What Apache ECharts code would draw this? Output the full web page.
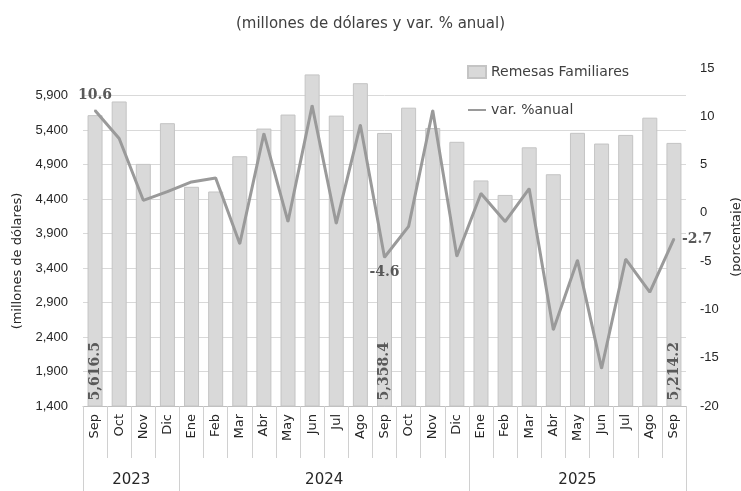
<!DOCTYPE html>
<html>
<head>
<meta charset="utf-8">
<script src="https://cdn.jsdelivr.net/npm/echarts@6/dist/echarts.min.js"></script>
<style>
	html, body { margin: 0; padding: 0; background: #fff; }
	#chart { width: 741px; height: 491px; }
</style>
</head>
<body>
<div id="chart"></div>
<script>
// meses (sep 2023 - sep 2025)
const months = ['Sep', 'Oct', 'Nov', 'Dic', 'Ene', 'Feb', 'Mar', 'Abr', 'May', 'Jun', 'Jul', 'Ago', 'Sep',
	'Oct', 'Nov', 'Dic', 'Ene', 'Feb', 'Mar', 'Abr', 'May', 'Jun', 'Jul', 'Ago', 'Sep'];
const years = ['2023', '2024', '2025'];
const monthsPerYear = [4, 12, 9];
// remesas familiares, millones de dólares
const remesas = [5616.5, 5815, 4910, 5500, 4578, 4510, 5021, 5422, 5625, 6207, 5610, 6080, 5358.4,
	5725, 5430, 5230, 4670, 4460, 5150, 4760, 5360, 5205, 5330, 5580, 5214.2];
// var. % anual
const variacion = [10.6, 7.7, 1.3, 2.2, 3.2, 3.6, -3.2, 8.2, -0.9, 11.1, -1.1, 9.1, -4.6,
	-1.4, 10.6, -4.5, 2.0, -0.9, 2.5, -12.1, -4.9, -16.1, -4.8, -8.2, -2.7];
const labeledIdx = [0, 12, 24];

const leftTicks = { min: 1400, max: 6300, interval: 500 };
const rightTicks = { min: -20, max: 15, interval: 5 };

// límites y centros de cada año sobre el eje de categorías
const yearBounds = [0];
monthsPerYear.forEach(n => yearBounds.push(yearBounds[yearBounds.length - 1] + n));
const yearCenters = years.map((y, i) => (yearBounds[i] + yearBounds[i + 1]) / 2);

const numFont = 'Liberation Sans';
const textFont = 'DejaVu Sans';
const lblFont = 'DejaVu Serif';
const lineColor = '#9a9a9a';

const linePos = ['top', 'bottom', 'right'];

const option = {
	animation: false,
	title: {
		text: '(millones de dólares y var. % anual)',
		left: 'center',
		top: 12,
		textStyle: { fontFamily: textFont, fontSize: 15, fontWeight: 'normal', color: '#404040' },
	},
	legend: {
		orient: 'vertical',
		left: 462,
		top: 60,
		itemGap: 24,
		itemWidth: 18,
		itemHeight: 12,
		textStyle: { fontFamily: textFont, fontSize: 14, color: '#404040' },
		data: [
			{ name: 'Remesas Familiares', icon: 'rect' },
			{ name: 'var. %anual', itemStyle: { opacity: 0 } },
		],
	},
	grid: { left: 83, right: 55, top: 68, bottom: 85, outerBoundsMode: 'none', containLabel: false },
	xAxis: [
		{
			type: 'category',
			data: months,
			axisLine: { onZero: false, lineStyle: { color: '#bfbfbf' } },
			axisTick: { show: true, length: 52, lineStyle: { color: '#d0d0d0' } },
			axisLabel: {
				rotate: 90,
				margin: 8,
				interval: 0,
				fontFamily: textFont,
				fontSize: 13,
				color: '#262626',
			},
		},
		{
			type: 'value',
			min: 0,
			max: months.length,
			position: 'bottom',
			axisLine: { show: false, onZero: false },
			splitLine: { show: false },
			axisTick: { show: true, length: 85, customValues: yearBounds, lineStyle: { color: '#d0d0d0' } },
			axisLabel: {
				customValues: yearCenters,
				margin: 67,
				fontFamily: textFont,
				fontSize: 15,
				color: '#262626',
				formatter: v => years[yearCenters.indexOf(v)] || '',
			},
		},
	],
	yAxis: [
		{
			type: 'value',
			min: leftTicks.min,
			max: leftTicks.max,
			interval: leftTicks.interval,
			name: '(millones de dólares)',
			nameLocation: 'middle',
			nameRotate: 90,
			nameGap: 58,
			nameTextStyle: { fontFamily: textFont, fontSize: 13, color: '#262626', padding: [0, 48, 0, 0] },
			axisLine: { show: false },
			axisTick: { show: false },
			axisLabel: {
				margin: 15,
				fontFamily: numFont,
				fontSize: 13,
				color: '#262626',
				formatter: v => (v === leftTicks.max ? '' : v.toLocaleString('en-US')),
			},
			splitLine: { show: true, showMaxLine: false, lineStyle: { color: '#d9d9d9' } },
		},
		{
			type: 'value',
			min: rightTicks.min,
			max: rightTicks.max,
			interval: rightTicks.interval,
			name: '(porcentaje)',
			nameLocation: 'middle',
			nameRotate: 90,
			nameGap: 42,
			nameTextStyle: { fontFamily: textFont, fontSize: 13, color: '#262626' },
			axisLine: { show: false },
			axisTick: { show: false },
			axisLabel: { margin: 14, fontFamily: numFont, fontSize: 13, color: '#262626' },
			splitLine: { show: false },
		},
	],
	series: [
		{
			name: 'Remesas Familiares',
			type: 'bar',
			xAxisIndex: 0,
			yAxisIndex: 0,
			barWidth: 15,
			itemStyle: { color: '#d9d9d9', borderColor: '#c4c4c4', borderWidth: 1 },
			data: remesas.map((v, i) =>
				labeledIdx.includes(i)
					? {
							value: v,
							label: {
								show: true,
								position: 'insideBottom',
								rotate: 90,
								align: 'left',
								verticalAlign: 'middle',
								distance: 6,
								fontFamily: lblFont,
								fontWeight: 'bold',
								fontSize: 14,
								color: '#595959',
								formatter: p => p.value.toLocaleString('en-US', { minimumFractionDigits: 1 }),
							},
					  }
					: v
			),
		},
		{
			name: 'var. %anual',
			type: 'line',
			xAxisIndex: 0,
			yAxisIndex: 1,
			symbol: 'circle',
			symbolSize: 2,
			showSymbol: true,
			lineStyle: { color: lineColor, width: 3 },
			itemStyle: { color: lineColor },
			data: variacion.map((v, i) => {
				const k = labeledIdx.indexOf(i);
				if (k < 0) return v;
				return {
					value: v,
					label: {
						show: true,
						position: linePos[k],
						distance: 7,
						fontFamily: lblFont,
						fontWeight: 'bold',
						fontSize: 14,
						color: '#595959',
						formatter: p => p.value.toFixed(1),
					},
				};
			}),
		},
	],
};

const myEcharts = echarts.init(document.getElementById('chart'));
myEcharts.setOption(option);
</script>
</body>
</html>
